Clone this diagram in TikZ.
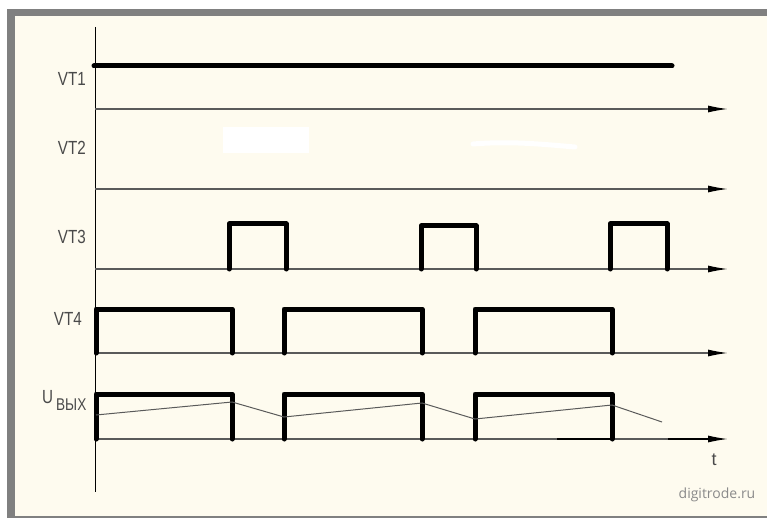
\documentclass[tikz,border=0pt]{standalone}
\usepackage{fontspec}
\setmainfont{Liberation Sans}
\newfontfamily\opensans{Open Sans}
\usetikzlibrary{arrows.meta}
\definecolor{cream}{HTML}{FEFBEF}
\definecolor{framegray}{HTML}{808080}
\definecolor{labgray}{HTML}{4A4A4A}
\definecolor{basegray}{HTML}{5A5A5A}
\definecolor{webgray}{HTML}{8A8A8A}
\begin{document}
\begin{tikzpicture}[x=1pt,y=-1pt,
  baseline/.style={draw=basegray,line width=1.3pt,-{Latex[length=20pt,width=7pt,black]}},
  pulse/.style={draw=black,line width=5pt,line cap=round,line join=round},
  ramp/.style={draw=basegray,line width=1pt},
  sig/.style={text=labgray,inner sep=0pt,font=\fontsize{19}{19}\selectfont,xscale=0.8},
  erase/.style={fill=white,draw=none}]
\useasboundingbox (0,0) rectangle (767,518);
\fill[white] (0,0) rectangle (767,518);
% frame
\fill[framegray] (7,9) rectangle (767,518);
\fill[cream] (15,16) rectangle (767,516);
% vertical axis
\draw[black,line width=1pt] (95,27) coordinate (ytop) -- (95,492) coordinate (ybot);
% baselines
\foreach \yy/\nm in {109/b1,189/b2,269/b3,353/b4,439/b5}{
  \coordinate (\nm s) at (95,\yy);
  \coordinate (\nm e) at (728,\yy);
  \draw[baseline] (\nm s) -- (\nm e);
}
% darker segments of output baseline
\draw[black,line width=2pt] (557,439) -- (612,439);
\draw[black,line width=2pt] (668,439) -- (712,439);
% erased patches in VT2 row
\fill[erase] (223,127) rectangle (309,153);
\draw[white,line width=5pt,line cap=round] (473,144) .. controls (510,141) and (540,144) .. (575,147);
% VT1
\draw[pulse] (94,66) -- (672,66);
% VT3
\draw[pulse] (229,269) -- (229,224) -- (286,224) -- (286,269);
\draw[pulse] (421,269) -- (421,226) -- (476,226) -- (476,269);
\draw[pulse] (610,269) -- (610,224) -- (667,224) -- (667,269);
% VT4
\draw[pulse] (96,353) -- (96,309) -- (232,309) -- (232,353);
\draw[pulse] (284,353) -- (284,309) -- (422,309) -- (422,353);
\draw[pulse] (475,353) -- (475,309) -- (612,309) -- (612,353);
% Uout
\draw[pulse] (96,439) -- (96,394) -- (232,394) -- (232,439);
\draw[pulse] (284,439) -- (284,394) -- (422,394) -- (422,439);
\draw[pulse] (475,439) -- (475,394) -- (612,394) -- (612,439);
\draw[ramp] (96,415) -- (232,402) -- (284,417) -- (422,403) -- (475,419) -- (612,405) -- (662,422);
% labels
\node[sig,anchor=east] (vt1) at (86,79) {VT1};
\node[sig,anchor=east] (vt2) at (86,148) {VT2};
\node[sig,anchor=east] (vt3) at (86,237) {VT3};
\node[sig,anchor=east] (vt4) at (82,319) {VT4};
\node[sig,anchor=west] (u) at (42,397) {U};
\node[sig,anchor=west,font=\fontsize{17}{17}\selectfont] (vyh) at (56,405) {ВЫХ};
\node[text=labgray,inner sep=0pt,font=\fontsize{18}{18}\selectfont] (t) at (714,460) {t};
\node[text=webgray,inner sep=0pt,font=\opensans\fontsize{14}{14}\selectfont] (web) at (717,495) {digitrode.ru};
\end{tikzpicture}
\end{document}
